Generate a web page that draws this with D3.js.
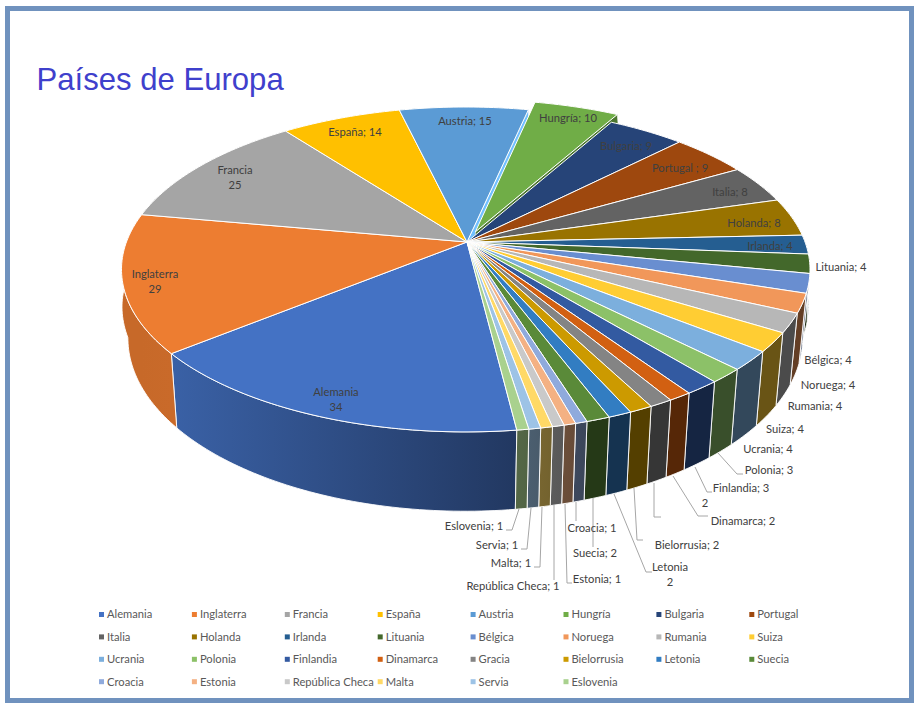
<!DOCTYPE html>
<html lang="es">
<head>
<meta charset="utf-8">
<title>Países de Europa</title>
<script src="https://cdn.jsdelivr.net/npm/d3@7/dist/d3.min.js"></script>
<style>
html,body{margin:0;padding:0;background:#fff;}
svg{display:block;}
text{font-family:"Lato","Noto Sans",sans-serif;}
</style>
</head>
<body>
<svg id="chart" width="920" height="711"></svg>
<script>
// ---- data ----
const countries = ["Alemania","Inglaterra","Francia","España","Austria","Hungría","Bulgaria","Portugal","Italia","Holanda","Irlanda","Lituania","Bélgica","Noruega","Rumania","Suiza","Ucrania","Polonia","Finlandia","Dinamarca","Gracia","Bielorrusia","Letonia","Suecia","Croacia","Estonia","República Checa","Malta","Servia","Eslovenia"];
const counts = [34,29,25,14,15,10,9,9,8,8,4,4,4,4,4,4,4,3,3,2,2,2,2,2,1,1,1,1,1,1];
const colors = ["#4472C4","#ED7D31","#A5A5A5","#FFC000","#5B9BD5","#70AD47","#264478","#9E480E","#636363","#997300","#255E91","#43682B","#698ED0","#F1975A","#B7B7B7","#FFCD33","#7CAFDD","#8CC168","#335AA1","#D26012","#848484","#CC9A00","#327DC2","#5A8A39","#8FAADC","#F4B183","#C9C9C9","#FFD966","#9DC3E6","#A9D18E"];
const chartTitle = "Países de Europa";

// ---- label text and placement (layout only) ----
const labelLayout = [
 ["Alemania",["Alemania","34"],336,392],["Inglaterra",["Inglaterra","29"],155,274],["Francia",["Francia","25"],235,170],
 ["España",["España; 14"],355,132],["Austria",["Austria; 15"],465,121],["Hungría",["Hungría; 10"],568,118],
 ["Bulgaria",["Bulgaria; 9"],626,146],["Portugal",["Portugal ; 9"],680,168],["Italia",["Italia; 8"],730,192],
 ["Holanda",["Holanda; 8"],754,223],["Irlanda",["Irlanda; 4"],770,246],["Lituania",["Lituania; 4"],841,267],
 ["Bélgica",["Bélgica; 4"],828,360],["Noruega",["Noruega; 4"],828,385],["Rumania",["Rumania; 4"],815,406],
 ["Suiza",["Suiza; 4"],785,429],["Ucrania",["Ucrania; 4"],768,449],["Polonia",["Polonia; 3"],769,470],
 ["Finlandia",["Finlandia; 3"],741,488],["Gracia",["2"],705,503],["Dinamarca",["Dinamarca; 2"],743,521],
 ["Bielorrusia",["Bielorrusia; 2"],687,545],["Letonia",["Letonia","2"],670,567],["Suecia",["Suecia; 2"],595,553],
 ["Croacia",["Croacia; 1"],592,528],["Estonia",["Estonia; 1"],597,579],["República Checa",["República Checa; 1"],513,586],
 ["Malta",["Malta; 1"],511,563],["Servia",["Servia; 1"],497,545],["Eslovenia",["Eslovenia; 1"],474,526]
];
const leaderLayout = [
 [[519,509],[512,530],[506,530]],[[531,508],[527,549],[521,549]],[[542,507],[540,567],[534,567]],
 [[554,505],[554,580]],[[565,504],[567,583],[572,583]],[[576,502],[576,521]],[[593,498],[593,547]],
 [[614,494],[646,572],[652,572]],[[634,488],[637,540],[643,540]],[[654,483],[654,517],[661,517]],
 [[673,476],[698,516],[708,516]],[[695,467],[707,492],[712,492]],[[718,453],[737,474],[743,474]]
];

// ---- geometry: perspective disc ----
const cx = 467, cy = 242, a = 339.3, b = 157.8, k = 0.169, rimShift = -1.25;
const lowerCx = 466.5, lowerY0 = 309, lowerYScale = 1.065;
const lowerXScale = d3.scaleLinear().domain([-20,27]).range([1.035,0.98]).clamp(true);
const explodedName = "Hungría", explodeBy = 0.07;
const firstAngle = -7.2 * Math.PI / 180;
const svg = d3.select("#chart");
const defs = svg.append("defs");

const pie = d3.pie().sort(null).value(d => d.value)
  .startAngle(firstAngle).endAngle(firstAngle + 2 * Math.PI);
const slices = pie(countries.map((name, i) => ({name, value: counts[i], color: colors[i]})));

function discPoint(theta, r, d) {
  const e = d.data.name === explodedName ? explodeBy : 0;
  const mid = (d.startAngle + d.endAngle) / 2;
  const u = -Math.sin(theta) * r - Math.sin(mid) * e;
  const w = Math.cos(theta) * r + Math.cos(mid) * e;
  const s = 1 - k * w;
  return [cx + rimShift * r + a * u / s, cy + b * w / s];
}
const lower = p => [lowerCx + lowerXScale(p[1] - cy) * (p[0] - cx), lowerY0 + lowerYScale * (p[1] - cy)];
const arcPoints = d => {
  const n = Math.max(2, Math.ceil((d.endAngle - d.startAngle) / (Math.PI / 180)));
  return d3.range(n + 1).map(i => discPoint(d.startAngle + (d.endAngle - d.startAngle) * i / n, 1, d));
};
const poly = d3.line().curve(d3.curveLinearClosed);

// wall shading by horizontal position on the disc
const shade = d3.scaleLinear().domain([-1,-0.78,0.115,0.3,1]).range([0.84,0.85,0.5,0.41,0.41]).clamp(true);
const scaleColor = (c, f) => { const q = d3.rgb(c); return d3.rgb(q.r*f, q.g*f, q.b*f).formatHex(); };

// ---- frame ----
svg.append("rect").attr("x",7.5).attr("y",8.5).attr("width",904).attr("height",692)
  .attr("fill","#fff").attr("stroke","#7092BE").attr("stroke-width",5);

// ---- title ----
svg.append("text").text(chartTitle).attr("x",36.5).attr("y",90)
  .style("font-family","'Liberation Sans',Arial,sans-serif").style("font-size","31.1px").attr("fill","#3F40CC");

// ---- outer walls ----
slices.forEach((d, i) => {
  const pts = arcPoints(d);
  const gid = "wall" + i;
  const su = -Math.sin(d.startAngle), eu = -Math.sin(d.endAngle);
  const g = defs.append("linearGradient").attr("id",gid).attr("gradientUnits","userSpaceOnUse")
    .attr("x1",pts[0][0]).attr("x2",pts[pts.length-1][0]).attr("y1",0).attr("y2",0);
  g.append("stop").attr("offset",0).attr("stop-color",scaleColor(d.data.color,shade(su)));
  g.append("stop").attr("offset",1).attr("stop-color",scaleColor(d.data.color,shade(eu)));
  svg.append("path").attr("d",poly(pts.concat(pts.map(lower).reverse())))
    .attr("fill",`url(#${gid})`).attr("stroke","#fff").attr("stroke-width",0.9).attr("stroke-linejoin","round");
});

// ---- cut faces exposed by the exploded slice ----
const exposed = slices.findIndex(d => d.data.name === explodedName);
const endFace = (d, fill) => {
  const apex = discPoint(d.endAngle, 0, d), rim = discPoint(d.endAngle, 1, d);
  svg.append("path").attr("d",poly([apex, rim, lower(rim), lower(apex)]))
    .attr("fill",fill).attr("stroke","#fff").attr("stroke-width",0.6);
};
endFace(slices[exposed-1], d3.rgb(slices[exposed-1].data.color).brighter(0.6).formatHex());
endFace(slices[exposed], scaleColor(slices[exposed].data.color,0.68));

// ---- top faces ----
const topFace = d => {
  const pts = arcPoints(d);
  svg.append("path").attr("d",poly([discPoint(d.startAngle,0,d)].concat(pts)))
    .attr("fill",d.data.color).attr("stroke","#fff").attr("stroke-width",1).attr("stroke-linejoin","round");
};
slices.filter(d => d.data.name !== explodedName).forEach(topFace);
topFace(slices[exposed]);

// ---- leader lines ----
const leaderLine = d3.line();
svg.append("g").selectAll("path").data(leaderLayout).join("path")
  .attr("d",d => leaderLine(d)).attr("fill","none").attr("stroke","#A6A6A6").attr("stroke-width",1);

// ---- data labels ----
const labels = svg.append("g").attr("text-anchor","middle").style("font-size","11.2px").attr("fill","#404040");
labelLayout.forEach(([name, lines, x, y]) => {
  lines.forEach((line, j) => {
    labels.append("text").text(line).attr("x",x).attr("y",y + j * 15).attr("dy","0.35em");
  });
});

// ---- legend ----
const legendCols = 8;
const legendX = d3.scaleLinear().domain([0,1]).range([99,191.9]);
const legendY = d3.scaleLinear().domain([0,1]).range([614.5,636.9]);
const legend = svg.append("g").selectAll("g").data(slices).join("g")
  .attr("transform",(d,i) => `translate(${legendX(i % legendCols)},${legendY(Math.floor(i / legendCols))})`);
legend.append("rect").attr("x",0).attr("y",-2.5).attr("width",5).attr("height",5).attr("fill",d => d.data.color);
legend.append("text").text(d => d.data.name).attr("x",8).attr("dy","0.35em")
  .style("font-size","11.2px").attr("fill","#595959");
</script>
</body>
</html>
